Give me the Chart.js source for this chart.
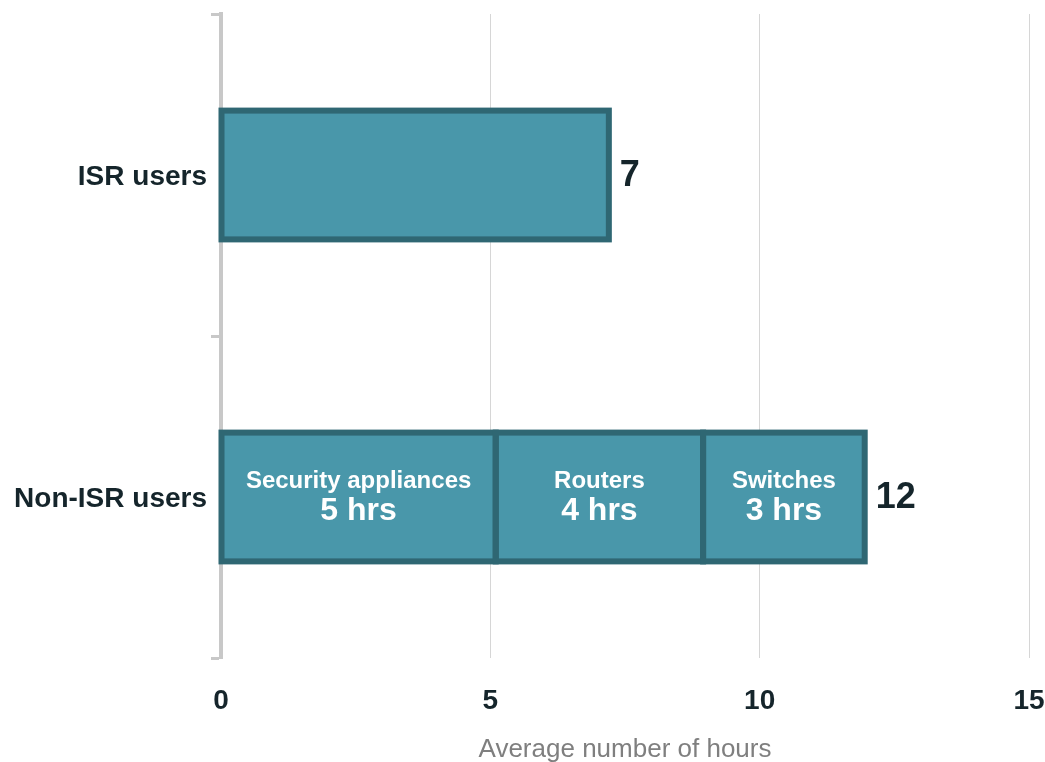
<!DOCTYPE html>
<html>
<head>
<meta charset="utf-8">
<script src="https://cdn.jsdelivr.net/npm/chart.js@4.4.1/dist/chart.umd.min.js"></script>
<style>
  html, body { margin: 0; padding: 0; background: #fff; }
  #wrap { width: 1045px; height: 762px; position: relative; }
</style>
</head>
<body>
<div id="wrap"><canvas id="hours-chart"></canvas></div>
<script>
// values
const categories = ['ISR users', 'Non-ISR users'];
const isrHours = [7.2, null];
const segmentNames = ['Security appliances', 'Routers', 'Switches'];
const securityHours = [null, 5.1];
const routerHours = [null, 3.85];
const switchHours = [null, 3.0];
const segmentLabels = ['5 hrs', '4 hrs', '3 hrs'];
const totalLabels = ['7', '12'];
const xTicks = [0, 5, 10, 15];

const FONT = "'Liberation Sans', Arial, sans-serif";
const FILL = '#4997aa';
const EDGE = '#2f6773';
const DARK = '#15252b';
const AXIS_GREY = '#c8c8c8';
const EDGE_WIDTH = 6;

// outlines every bar (stroke centred on its edges, like the original),
// then draws the names inside the segments and the totals after the bars
const barLabels = {
    id: 'barLabels',
    afterDatasetsDraw(chart) {
        const ctx = chart.ctx;
        ctx.save();

        ctx.strokeStyle = EDGE;
        ctx.lineWidth = EDGE_WIDTH;
        ctx.lineJoin = 'miter';
        chart.data.datasets.forEach((ds, i) => {
            chart.getDatasetMeta(i).data.forEach((bar, j) => {
                if (ds.data[j] == null) return;
                const left = Math.min(bar.x, bar.base);
                const w = Math.abs(bar.x - bar.base);
                ctx.strokeRect(left, bar.y - bar.height / 2, w, bar.height);
            });
        });

        ctx.textBaseline = 'middle';
        for (let i = 1; i <= 3; i++) {
            const meta = chart.getDatasetMeta(i);
            meta.data.forEach((bar, j) => {
                if (chart.data.datasets[i].data[j] == null) return;
                const cx = (bar.x + bar.base) / 2;
                ctx.fillStyle = '#ffffff';
                ctx.textAlign = 'center';
                ctx.font = 'bold 24px ' + FONT;
                ctx.fillText(segmentNames[i - 1], cx, bar.y - 16);
                ctx.font = 'bold 32px ' + FONT;
                ctx.fillText(segmentLabels[i - 1], cx, bar.y + 14);
            });
        }

        categories.forEach((cat, j) => {
            let end = null, y = null;
            chart.data.datasets.forEach((ds, i) => {
                if (ds.data[j] == null) return;
                const bar = chart.getDatasetMeta(i).data[j];
                if (end === null || bar.x > end) { end = bar.x; y = bar.y; }
            });
            if (end === null) return;
            ctx.fillStyle = DARK;
            ctx.textAlign = 'left';
            ctx.font = 'bold 36px ' + FONT;
            ctx.fillText(totalLabels[j], end + EDGE_WIDTH / 2 + 8, y + 1);
        });
        ctx.restore();
    }
};

function segment(data) {
    return {
        data: data,
        backgroundColor: FILL,
        borderWidth: 0,
        categoryPercentage: 1,
        barPercentage: 0.4,
    };
}

const ctx = document.getElementById('hours-chart').getContext('2d');
const hoursChart = new Chart(ctx, {
    type: 'bar',
    data: {
        labels: categories,
        datasets: [
            segment(isrHours),
            segment(securityHours),
            segment(routerHours),
            segment(switchHours),
        ],
    },
    options: {
        indexAxis: 'y',
        responsive: true,
        maintainAspectRatio: false,
        animation: false,
        layout: { padding: { top: 14, right: 16, left: 0, bottom: 0 } },
        plugins: {
            legend: { display: false },
            tooltip: { enabled: false },
        },
        scales: {
            x: {
                stacked: true,
                min: 0,
                max: 15,
                afterBuildTicks: (scale) => {
                    scale.ticks = xTicks.map(v => ({ value: v }));
                },
                afterFit: (scale) => {
                    scale.height = 104;
                    scale.paddingLeft = 0;
                    scale.paddingRight = 0;
                },
                grid: {
                    color: '#d6d6d6',
                    lineWidth: 1,
                    drawTicks: false,
                },
                border: { display: false },
                ticks: {
                    color: DARK,
                    padding: 26,
                    font: { family: FONT, size: 28, weight: 'bold' },
                },
                title: {
                    display: true,
                    text: 'Average number of hours',
                    color: '#7f7f7f',
                    padding: { top: 0, bottom: -3 },
                    font: { family: FONT, size: 26 },
                },
            },
            y: {
                stacked: true,
                afterFit: (scale) => {
                    scale.width = 221;
                    scale.paddingTop = 0;
                    scale.paddingBottom = 0;
                },
                grid: {
                    offset: true,
                    drawOnChartArea: false,
                    drawTicks: true,
                    tickLength: 10,
                    tickColor: AXIS_GREY,
                    tickWidth: 3,
                },
                border: { color: AXIS_GREY, width: 4 },
                ticks: {
                    color: DARK,
                    padding: 4,
                    labelOffset: 2,
                    font: { family: FONT, size: 28, weight: 'bold' },
                },
            },
        },
    },
    plugins: [barLabels],
});
</script>
</body>
</html>
